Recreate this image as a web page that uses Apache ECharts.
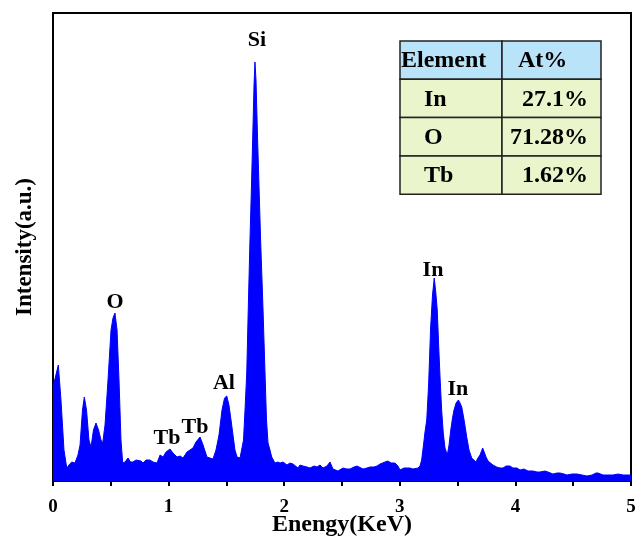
<!DOCTYPE html>
<html>
<head>
<meta charset="utf-8">
<script src="https://cdn.jsdelivr.net/npm/echarts@6/dist/echarts.min.js"></script>
<style>html,body{margin:0;padding:0;background:#fff}#c{width:642px;height:543px}</style>
</head>
<body>
<div id="c"></div>
<script>
// Energy (KeV) and intensity (a.u.)
const energy = [0.000,0.046,0.069,0.095,0.119,0.138,0.162,0.190,0.216,0.234,0.255,0.271,0.290,0.311,0.329,0.350,0.372,0.394,0.415,0.430,0.450,0.476,0.502,0.519,0.536,0.554,0.571,0.588,0.603,0.623,0.649,0.670,0.692,0.718,0.735,0.761,0.779,0.804,0.839,0.865,0.900,0.926,0.952,0.978,1.012,1.038,1.073,1.099,1.125,1.159,1.185,1.211,1.237,1.272,1.298,1.332,1.358,1.384,1.410,1.436,1.462,1.484,1.503,1.522,1.540,1.557,1.574,1.592,1.618,1.635,1.648,1.661,1.676,1.691,1.704,1.717,1.727,1.739,1.747,1.756,1.770,1.783,1.796,1.817,1.834,1.847,1.860,1.877,1.892,1.920,1.946,1.964,1.990,2.024,2.050,2.076,2.119,2.137,2.163,2.197,2.223,2.258,2.284,2.310,2.336,2.370,2.396,2.422,2.465,2.509,2.543,2.569,2.604,2.630,2.682,2.716,2.742,2.777,2.803,2.829,2.846,2.872,2.898,2.924,2.958,2.984,3.002,3.036,3.062,3.088,3.114,3.157,3.175,3.189,3.205,3.218,3.233,3.249,3.267,3.283,3.298,3.311,3.324,3.336,3.348,3.362,3.376,3.391,3.411,3.426,3.441,3.456,3.469,3.487,3.507,3.521,3.536,3.556,3.579,3.599,3.622,3.659,3.676,3.694,3.717,3.733,3.746,3.763,3.780,3.806,3.838,3.867,3.893,3.919,3.936,3.953,3.979,4.014,4.040,4.074,4.109,4.152,4.187,4.213,4.256,4.282,4.325,4.360,4.386,4.420,4.446,4.490,4.533,4.576,4.619,4.663,4.697,4.715,4.758,4.801,4.844,4.888,4.931,4.974,5.000];
const intensity = [94,116,81,31,13,16,19,18,26,36,71,84,71,41,34,51,58,51,41,38,56,101,151,163,168,151,101,41,18,19,23,19,19,21,19,20,18,21,21,19,18,26,24,29,32,28,24,25,23,29,31,33,39,44,36,24,23,22,31,46,71,83,85,76,61,46,31,24,23,24,41,71,108,181,241,296,341,396,419,401,341,291,241,171,108,61,38,31,24,18,19,18,19,16,18,17,13,16,15,14,13,15,14,16,13,15,19,12,10,13,12,12,14,15,12,13,14,14,15,17,19,19,20,18,18,15,11,13,13,13,12,13,15,21,36,49,61,96,154,186,203,189,171,136,104,71,48,33,26,36,51,63,71,78,81,78,74,61,44,31,23,19,23,26,33,31,24,20,18,16,14,13,13,15,15,15,13,13,11,12,10,10,9,9,10,9,7,8,8,7,6,7,7,6,5,6,8,8,6,6,6,7,6,6,6];

// Peak annotations
const peakNames = ['Si','O','Al','Tb','Tb','In','In'];
const peakE = [1.765,0.536,1.479,0.986,1.228,3.287,3.503];
const peakV = [441,179,98,43,54,211,92];

// Composition table
const tableHeader = ['Element','At%'];
const tableElements = ['In','O','Tb'];
const tableAt = ['27.1%','71.28%','1.62%'];

const xTicks = [0,1,2,3,4,5];

const chart = echarts.init(document.getElementById('c'));
const font = '"Liberation Serif","Times New Roman",serif';

const graphics = [];
const tx = 400, ty = 41, c1 = 102, c2 = 99, rh = 38.3;
const rows = [tableHeader].concat(tableElements.map((e,i)=>[e,tableAt[i]]));
const tfont = 'bold 24px ' + font;
rows.forEach((r,i)=>{
  const fill = i===0 ? '#B9E3F8' : '#EAF5CC';
  const cy = ty+i*rh+rh/2+1;
  graphics.push({type:'rect',shape:{x:tx,y:ty+i*rh,width:c1,height:rh},style:{fill:fill,stroke:'#222',lineWidth:1.5},z:10});
  graphics.push({type:'rect',shape:{x:tx+c1,y:ty+i*rh,width:c2,height:rh},style:{fill:fill,stroke:'#222',lineWidth:1.5},z:10});
  graphics.push({type:'text',x: i===0 ? tx+1 : tx+24, y:cy,style:{text:r[0],font:tfont,fill:'#000',verticalAlign:'middle'},z:11});
  if (i===0) {
    graphics.push({type:'text',x:tx+c1+16, y:cy,style:{text:r[1],font:tfont,fill:'#000',align:'left',verticalAlign:'middle'},z:11});
  } else {
    graphics.push({type:'text',x:tx+c1+c2-13, y:cy,style:{text:r[1],font:tfont,fill:'#000',align:'right',verticalAlign:'middle'},z:11});
  }
});

chart.setOption({
  animation:false,
  grid:{left:53,right:11,top:13,bottom:62,show:true,borderColor:'#000',borderWidth:2,outerBoundsMode:'none',containLabel:false},
  xAxis:{type:'value',min:0,max:5,interval:0.5,
    name:'Enengy(KeV)',nameLocation:'middle',nameGap:32,nameMoveOverlap:false,
    nameTextStyle:{fontFamily:font,fontWeight:'bold',fontSize:24,color:'#000'},
    axisLine:{lineStyle:{color:'#000',width:2}},
    axisTick:{show:true,inside:false,length:5,lineStyle:{color:'#000',width:2}},
    axisLabel:{fontFamily:font,fontWeight:'bold',fontSize:19,color:'#000',margin:17,
      formatter:v=> xTicks.indexOf(v)>=0 ? String(v) : ''},
    splitLine:{show:false}},
  yAxis:{type:'value',min:0,max:468,
    name:'Intensity(a.u.)',nameLocation:'middle',nameGap:16,nameMoveOverlap:false,
    nameTextStyle:{fontFamily:font,fontWeight:'bold',fontSize:23,color:'#000'},
    axisLine:{show:true,lineStyle:{color:'#000',width:2}},
    axisTick:{show:false},axisLabel:{show:false},splitLine:{show:false}},
  graphic:graphics,
  series:[
    {type:'line',data:energy.map((e,i)=>[e,intensity[i]]),showSymbol:false,
     lineStyle:{color:'#0000FF',width:1},areaStyle:{color:'#0000FF',opacity:1},z:2},
    {type:'scatter',data:peakE.map((e,i)=>[e,peakV[i]]),symbolSize:0,
     itemStyle:{color:'#000',opacity:1},
     label:{show:true,position:'inside',formatter:p=>peakNames[p.dataIndex],
       fontFamily:font,fontWeight:'bold',fontSize:22,color:'#000',opacity:1,textBorderWidth:0},z:5}
  ]
});
</script>
</body>
</html>
